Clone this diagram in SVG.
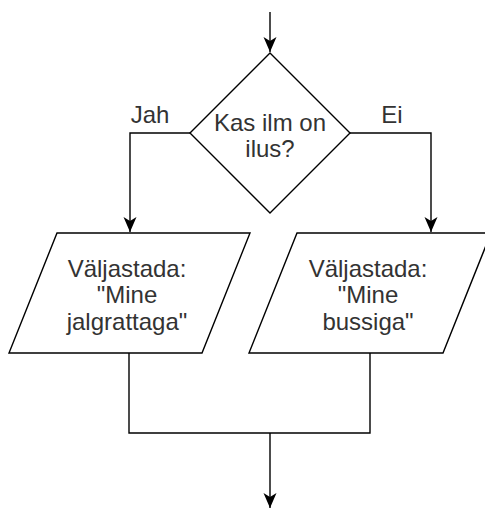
<svg xmlns="http://www.w3.org/2000/svg" width="485" height="509" viewBox="0 0 485 509">
<defs>
<marker id="arr" viewBox="-17 -8 18 16" refX="0" refY="0" markerWidth="18" markerHeight="16" orient="auto" markerUnits="userSpaceOnUse">
<path d="M0,0 L-15,-6.5 L-11,0 L-15,6.5 Z" fill="#000"/>
</marker>
<style>
.shape{fill:#fff;stroke:#000;stroke-width:1.4}
.edge{fill:none;stroke:#000;stroke-width:1.4}
.t{font-family:"Liberation Sans",Arial,sans-serif;font-size:24px;fill:#333;text-anchor:middle}
</style>
</defs>
<rect width="485" height="509" fill="#fff"/>
<g id="edges">
<path class="edge" d="M270,12 L270,52" marker-end="url(#arr)"/>
<path class="edge" d="M190,133 L130,133 L130,232" marker-end="url(#arr)"/>
<path class="edge" d="M349,133 L431,133 L431,232" marker-end="url(#arr)"/>
<path class="edge" d="M129,353 L129,433 L370,433 L370,353"/>
<path class="edge" d="M270,433 L270,508" marker-end="url(#arr)"/>
<text class="t" x="150" y="123">Jah</text>
<text class="t" x="392" y="123">Ei</text>
</g>
<g id="decision">
<polygon class="shape" points="270,53 350,133 270,213 190,133"/>
<text class="t" x="270" y="131">Kas ilm on</text>
<text class="t" x="270" y="157">ilus?</text>
</g>
<g id="output-left">
<polygon class="shape" points="57,233 250,233 202,353 9,353"/>
<text class="t" x="127" y="277">Väljastada:</text>
<text class="t" x="127" y="303">"Mine</text>
<text class="t" x="127" y="330">jalgrattaga"</text>
</g>
<g id="output-right">
<polygon class="shape" points="297,233 491,233 443,353 249,353"/>
<text class="t" x="368" y="277">Väljastada:</text>
<text class="t" x="368" y="303">"Mine</text>
<text class="t" x="368" y="330">bussiga"</text>
</g>
</svg>
